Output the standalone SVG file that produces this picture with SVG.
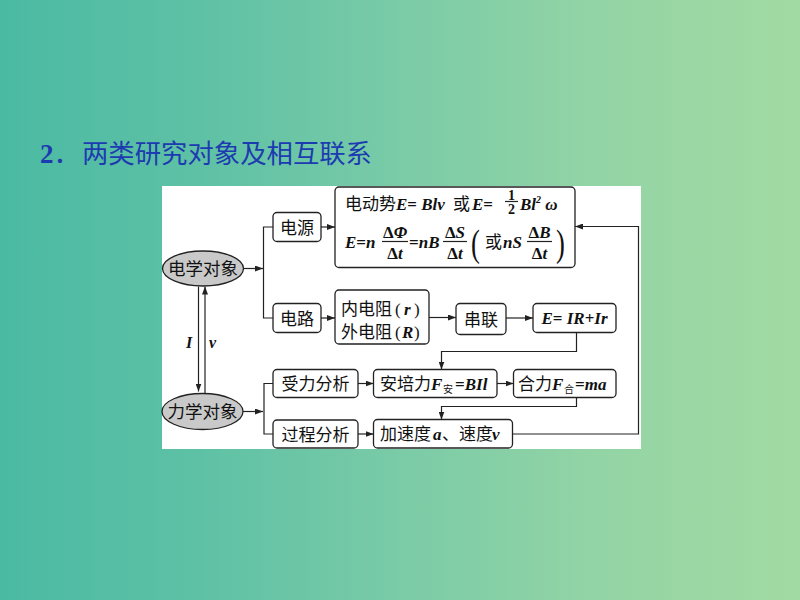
<svg xmlns="http://www.w3.org/2000/svg" width="800" height="600" viewBox="0 0 800 600">
<defs>
<linearGradient id="bg" x1="0" y1="0" x2="1" y2="0">
<stop offset="0" stop-color="#4bbaa3"/>
<stop offset="0.25" stop-color="#5ec1a5"/>
<stop offset="0.5" stop-color="#7acba7"/>
<stop offset="0.75" stop-color="#93d4a5"/>
<stop offset="1" stop-color="#a2daa2"/>
</linearGradient>
<marker id="ah" markerUnits="userSpaceOnUse" markerWidth="8" markerHeight="6" refX="8" refY="3" orient="auto">
<path d="M0,0 L8,3 L0,6 z" fill="#222"/>
</marker>
<style>
.box{fill:#fff;stroke:#222;stroke-width:1.3}
.ell{fill:#c9c9c9;stroke:#222;stroke-width:1.3}
.cn{font-family:"Noto Sans CJK SC","Noto Sans CJK JP",sans-serif;font-size:17px;fill:#111}
.m{font-family:"Liberation Serif",serif;font-style:italic;font-weight:bold;font-size:17px;fill:#111}
.r{font-family:"Liberation Serif",serif;font-size:17px;fill:#111}
.u{font-style:normal}
.sub{font-family:"Noto Sans CJK SC",sans-serif;font-size:10px;fill:#111}
.c{text-anchor:middle}
.ln{fill:none;stroke:#222;stroke-width:1.2}
.ar{fill:none;stroke:#222;stroke-width:1.2;marker-end:url(#ah)}
</style>
</defs>
<rect x="0" y="0" width="800" height="600" fill="url(#bg)"/>
<g id="title">
<text x="40" y="163" font-family="Liberation Serif,serif" font-weight="bold" font-size="27" fill="#1d3bb0">2<tspan font-family="Noto Sans CJK SC,sans-serif" font-weight="normal">．</tspan><tspan x="82" font-family="Noto Sans CJK SC,sans-serif" font-weight="normal" font-size="26" textLength="290" lengthAdjust="spacingAndGlyphs">两类研究对象及相互联系</tspan></text>
</g>
<rect x="162" y="186" width="479" height="263" fill="#fff"/>
<g id="connectors">
<path class="ar" d="M243.5,268.5 H263"/>
<path class="ln" d="M273,227 H263.5 V318 H273"/>
<path class="ar" d="M321,227 H335"/>
<path class="ar" d="M321,318 H335"/>
<path class="ar" d="M429,317.5 H456"/>
<path class="ar" d="M506,318 H533"/>
<path class="ar" d="M576.5,332.5 V351.5 H441.5 V369.5"/>
<path class="ar" d="M243,411.5 H263"/>
<path class="ln" d="M273,383.5 H264 V434 H273"/>
<path class="ar" d="M358,383.5 H373.5"/>
<path class="ar" d="M497,383.5 H513.5"/>
<path class="ar" d="M576.5,397.5 V406.5 H441.5 V419.5"/>
<path class="ar" d="M358,434 H373.5"/>
<path class="ar" d="M512.5,434 H638.5 V226.5 H575"/>
<path class="ar" d="M198.5,286.5 V391.5"/>
<path class="ar" d="M205,393.5 V286.5"/>
<text class="m" x="186" y="348" style="font-size:16px">I</text>
<text class="m" x="209" y="348" style="font-size:16px">v</text>
</g>
<g id="elec">
<ellipse class="ell" cx="203" cy="268.5" rx="40.5" ry="17.5"/>
<text class="cn c" x="203" y="275" style="font-size:17.5px">电学对象</text>
</g>
<g id="mech">
<ellipse class="ell" cx="202.5" cy="411.5" rx="40.5" ry="18"/>
<text class="cn c" x="202.5" y="418" style="font-size:17.5px">力学对象</text>
</g>
<g id="source">
<rect class="box" x="273" y="212.5" width="48" height="29" rx="4"/>
<text class="cn c" x="297" y="233.5">电源</text>
</g>
<g id="emf">
<rect class="box" x="335" y="187" width="240" height="80.5" rx="4"/>
<text class="cn" x="345" y="210">电动势</text>
<text class="m" x="396" y="210">E<tspan class="u">=</tspan> Blv</text>
<text class="cn" x="453" y="210">或</text>
<text class="m" x="472" y="210">E<tspan class="u">=</tspan></text>
<text class="r c" x="511.5" y="200" style="font-size:14px;font-weight:bold">1</text>
<path class="ln" d="M505,201.5 H518"/>
<text class="r c" x="511.5" y="213.5" style="font-size:14px;font-weight:bold">2</text>
<text class="m" x="520" y="210">Bl<tspan dy="-7" style="font-size:10px">2</tspan><tspan dy="7"> ω</tspan></text>
<text class="m" x="345" y="248">E<tspan class="u">=</tspan>n</text>
<text class="m c" x="395" y="238"><tspan class="u">Δ</tspan>Φ</text>
<path class="ln" d="M382,241.5 H408"/>
<text class="m c" x="395" y="259"><tspan class="u">Δ</tspan>t</text>
<text class="m" x="409" y="248"><tspan class="u">=</tspan>nB</text>
<text class="m c" x="455" y="238"><tspan class="u">Δ</tspan>S</text>
<path class="ln" d="M443,241.5 H467"/>
<text class="m c" x="455" y="259"><tspan class="u">Δ</tspan>t</text>
<text class="r" x="471" y="256" style="font-size:38px" transform="translate(471 0) scale(0.7 1) translate(-471 0)">(</text>
<text class="cn" x="485" y="248">或</text>
<text class="m" x="503" y="248">nS</text>
<text class="m c" x="539.5" y="238"><tspan class="u">Δ</tspan>B</text>
<path class="ln" d="M527,241.5 H552"/>
<text class="m c" x="539.5" y="259"><tspan class="u">Δ</tspan>t</text>
<text class="r" x="556" y="256" style="font-size:38px" transform="translate(556 0) scale(0.7 1) translate(-556 0)">)</text>
</g>
<g id="circuit">
<rect class="box" x="273" y="303.5" width="48" height="29" rx="4"/>
<text class="cn c" x="297" y="324.5">电路</text>
</g>
<g id="resist">
<rect class="box" x="335" y="290" width="94" height="54" rx="4"/>
<text class="cn" x="341" y="314.5">内电阻<tspan class="r" x="395">(</tspan><tspan class="m" x="404">r</tspan><tspan class="r" x="414">)</tspan></text>
<text class="cn" x="341" y="337.5">外电阻<tspan class="r" x="395">(</tspan><tspan class="m" x="402">R</tspan><tspan class="r" x="414">)</tspan></text>
</g>
<g id="series">
<rect class="box" x="456" y="303.5" width="50" height="31" rx="4"/>
<text class="cn c" x="481" y="325.5">串联</text>
</g>
<g id="ohm">
<rect class="box" x="533" y="303.5" width="83" height="29" rx="4"/>
<text class="m c" x="574.5" y="323.5">E<tspan class="u">=</tspan> IR<tspan class="u">+</tspan>Ir</text>
</g>
<g id="force">
<rect class="box" x="273" y="369.5" width="85" height="28" rx="4"/>
<text class="cn c" x="315.5" y="390">受力分析</text>
</g>
<g id="ampere">
<rect class="box" x="373.5" y="369.5" width="123.5" height="28" rx="4"/>
<text class="cn" x="380" y="390">安培力</text>
<text class="m" x="431" y="390">F</text>
<text class="sub" x="443" y="393">安</text>
<text class="m" x="455" y="390"><tspan class="u">=</tspan>BIl</text>
</g>
<g id="net">
<rect class="box" x="513.5" y="369.5" width="102.5" height="28" rx="4"/>
<text class="cn" x="518" y="390">合力</text>
<text class="m" x="552" y="390">F</text>
<text class="sub" x="564" y="393">合</text>
<text class="m" x="575" y="390"><tspan class="u">=</tspan>ma</text>
</g>
<g id="process">
<rect class="box" x="273" y="420" width="85" height="28" rx="4"/>
<text class="cn c" x="315.5" y="440.5">过程分析</text>
</g>
<g id="accel">
<rect class="box" x="373.5" y="419.5" width="139" height="28.5" rx="4"/>
<text class="cn" x="380" y="440">加速度</text>
<text class="m" x="433" y="440">a</text>
<text class="cn" x="442" y="440">、速度</text>
<text class="m" x="492" y="440">v</text>
</g>
</svg>
